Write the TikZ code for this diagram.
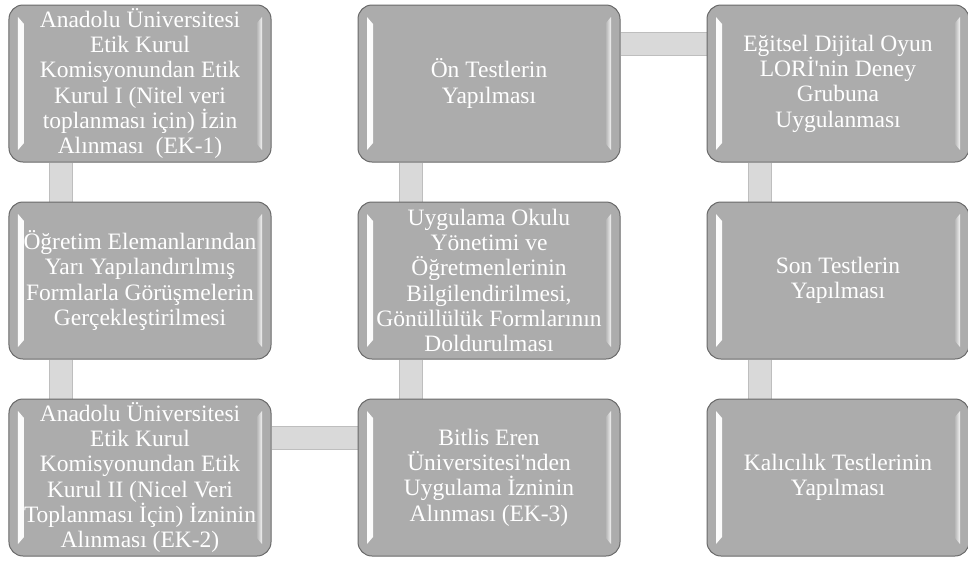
\documentclass[tikz,border=0pt]{standalone}
\usepackage{fontspec}
\setmainfont{Liberation Serif}[Ligatures=TeXOff]
\usetikzlibrary{positioning,backgrounds}
\definecolor{boxfill}{RGB}{172,172,172}
\definecolor{boxline}{RGB}{105,105,105}
\definecolor{barfill}{RGB}{217,217,217}
\definecolor{barline}{RGB}{190,190,190}

\begin{document}
\begin{tikzpicture}[x=1pt,y=1pt,node distance=197pt and 349pt,on grid,
    box/.style={rectangle,rounded corners=14pt,draw=boxline,line width=1pt,
      fill=boxfill,minimum width=262pt,minimum height=157pt,
      inner sep=0pt,align=center,text=white,font=\fontsize{23.5}{25.3}\selectfont,
      path picture={
        \shade[sharp corners,left color=white,right color=boxfill]
          ([xshift=9pt,yshift=-12pt]path picture bounding box.north west) --
          ([xshift=15pt,yshift=-19pt]path picture bounding box.north west) --
          ([xshift=15pt,yshift=19pt]path picture bounding box.south west) --
          ([xshift=9pt,yshift=12pt]path picture bounding box.south west) -- cycle;
        \shade[sharp corners,left color=boxfill,right color=white!85!boxfill]
          ([xshift=-15pt,yshift=-19pt]path picture bounding box.north east) --
          ([xshift=-9pt,yshift=-12pt]path picture bounding box.north east) --
          ([xshift=-9pt,yshift=12pt]path picture bounding box.south east) --
          ([xshift=-15pt,yshift=19pt]path picture bounding box.south east) -- cycle;}},
    bar/.style={draw=barline,line width=1pt,double=barfill,double distance=22pt}]
  \useasboundingbox (-140,83.5) rectangle (828,-479.5);
  \node[box] (L_1) {Anadolu Üniversitesi\\Etik Kurul\\Komisyonundan Etik\\Kurul I (Nitel veri\\toplanması için) İzin\\Alınması \ (EK-1)};
  \node[box] (L_2) [below=of L_1] {Öğretim Elemanlarından\\Yarı Yapılandırılmış\\Formlarla Görüşmelerin\\Gerçekleştirilmesi};
  \node[box] (L_3) [below=of L_2] {Anadolu Üniversitesi\\Etik Kurul\\Komisyonundan Etik\\Kurul II (Nicel Veri\\Toplanması İçin) İzninin\\Alınması (EK-2)};
  \node[box] (M_3) [right=of L_3] {Bitlis Eren\\Üniversitesi'nden\\Uygulama İzninin\\Alınması (EK-3)};
  \node[box] (M_2) [above=of M_3] {Uygulama Okulu\\Yönetimi ve\\Öğretmenlerinin\\Bilgilendirilmesi,\\Gönüllülük Formlarının\\Doldurulması};
  \node[box] (M_1) [above=of M_2] {Ön Testlerin\\Yapılması};
  \node[box] (R_1) [right=of M_1] {Eğitsel Dijital Oyun\\LORİ'nin Deney\\Grubuna\\Uygulanması};
  \node[box] (R_2) [below=of R_1] {Son Testlerin\\Yapılması};
  \node[box] (R_3) [below=of R_2] {Kalıcılık Testlerinin\\Yapılması};
  \begin{scope}[on background layer]
    \draw[bar] ([xshift=53pt]L_1.south west) -- ([xshift=53pt]L_2.north west);
    \draw[bar] ([xshift=53pt]L_2.south west) -- ([xshift=53pt]L_3.north west);
    \draw[bar] ([yshift=-39pt]L_3.north east) -- ([yshift=-39pt]M_3.north west);
    \draw[bar] ([xshift=53pt]M_3.north west) -- ([xshift=53pt]M_2.south west);
    \draw[bar] ([xshift=53pt]M_2.north west) -- ([xshift=53pt]M_1.south west);
    \draw[bar] ([yshift=-39pt]M_1.north east) -- ([yshift=-39pt]R_1.north west);
    \draw[bar] ([xshift=53pt]R_1.south west) -- ([xshift=53pt]R_2.north west);
    \draw[bar] ([xshift=53pt]R_2.south west) -- ([xshift=53pt]R_3.north west);
  \end{scope}
\end{tikzpicture}
\end{document}
